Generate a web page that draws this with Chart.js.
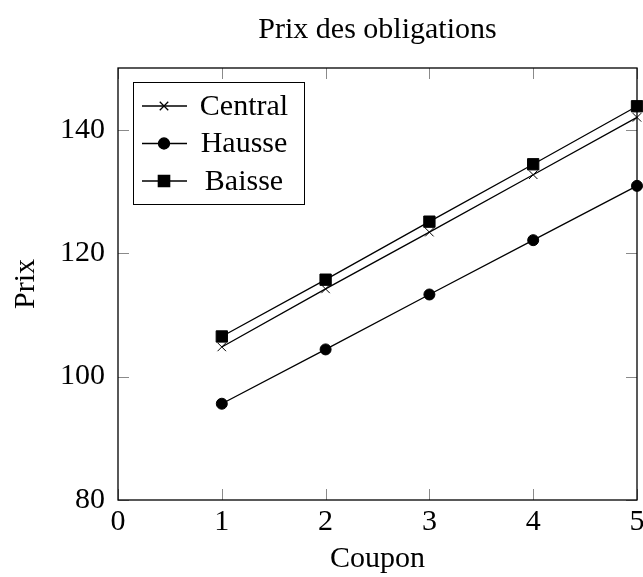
<!DOCTYPE html>
<html>
<head>
<meta charset="utf-8">
<script src="https://cdn.jsdelivr.net/npm/chart.js@4"></script>
<style>
  html, body { margin: 0; padding: 0; background: #fff; }
  #wrap { width: 643px; height: 577px; }
</style>
</head>
<body>
<div id="wrap"><canvas id="bond-chart" width="643" height="577"></canvas></div>
<script>
// values
const coupons = [1, 2, 3, 4, 5];
const central = [104.8, 114.2, 123.4, 132.7, 142.0];
const hausse = [95.6, 104.4, 113.3, 122.1, 130.9];
const baisse = [106.5, 115.7, 125.1, 134.4, 143.8];

const xTicks = [0, 1, 2, 3, 4, 5];
const yTicks = [80, 100, 120, 140];

Chart.defaults.font.family = "'Liberation Serif', serif";
Chart.defaults.font.size = 30;
Chart.defaults.color = '#000';

const toPoints = values => coupons.map((c, i) => ({x: c, y: values[i]}));

/**
 * pgfplots-like frame with inward ticks on all four sides
 */
const framePlugin = {
    id: 'frame',
    beforeDatasetsDraw(chart) {
        const {ctx, chartArea: a, scales: {x, y}} = chart;
        const len = 11;
        ctx.save();
        ctx.strokeStyle = '#8a8a8a';
        ctx.lineWidth = 1;
        ctx.beginPath();
        for (const v of xTicks) {
            const px = Math.round(x.getPixelForValue(v)) + 0.5;
            ctx.moveTo(px, a.bottom);
            ctx.lineTo(px, a.bottom - len);
            ctx.moveTo(px, a.top);
            ctx.lineTo(px, a.top + len);
        }
        for (const v of yTicks) {
            const py = Math.round(y.getPixelForValue(v)) + 0.5;
            ctx.moveTo(a.left, py);
            ctx.lineTo(a.left + len, py);
            ctx.moveTo(a.right, py);
            ctx.lineTo(a.right - len, py);
        }
        ctx.stroke();
        ctx.strokeStyle = '#000';
        ctx.lineWidth = 1.3;
        ctx.strokeRect(a.left, a.top, a.right - a.left, a.bottom - a.top);
        ctx.restore();
    }
};

/**
 * Legend box in the upper left corner of the plot
 */
const boxLegend = {
    id: 'boxLegend',
    afterDatasetsDraw(chart) {
        const {ctx, chartArea: a} = chart;
        const left = a.left + 15, top = a.top + 14;
        const w = 171, h = 122;
        ctx.save();
        ctx.fillStyle = '#fff';
        ctx.fillRect(left, top, w, h);
        ctx.strokeStyle = '#000';
        ctx.lineWidth = 1;
        ctx.strokeRect(left + 0.5, top + 0.5, w, h);
        ctx.font = "30px 'Liberation Serif', serif";
        ctx.textAlign = 'center';
        ctx.textBaseline = 'middle';
        chart.data.datasets.forEach((ds, i) => {
            const cy = top + 24 + i * 37.5;
            ctx.strokeStyle = '#000';
            ctx.lineWidth = 1.3;
            ctx.beginPath();
            ctx.moveTo(left + 9, cy);
            ctx.lineTo(left + 54, cy);
            ctx.stroke();
            Chart.helpers.drawPoint(ctx, {
                pointStyle: ds.pointStyle,
                radius: ds.pointRadius,
                rotation: 0,
                borderWidth: ds.pointBorderWidth
            }, left + 31, cy);
            ctx.fillStyle = '#000';
            ctx.fillText(ds.label, left + 111, cy + 1);
        });
        ctx.restore();
    }
};

function makeDataset(label, values, style, radius) {
    return {
        label: label,
        data: toPoints(values),
        borderColor: '#000',
        borderWidth: 1.3,
        backgroundColor: '#000',
        pointStyle: style,
        pointRadius: radius,
        pointHoverRadius: radius,
        pointBorderWidth: 1,
        pointBorderColor: '#000',
        pointBackgroundColor: '#000',
        tension: 0,
        fill: false,
        clip: false
    };
}

const chart = new Chart(document.getElementById('bond-chart'), {
    type: 'line',
    data: {
        datasets: [
            makeDataset('Central', central, 'crossRot', 6),
            makeDataset('Hausse', hausse, 'circle', 5.5),
            makeDataset('Baisse', baisse, 'rect', 8)
        ]
    },
    options: {
        responsive: false,
        devicePixelRatio: 1,
        animation: false,
        events: [],
        layout: {
            autoPadding: false,
            padding: {top: 0, right: 6, bottom: 0, left: 0}
        },
        plugins: {
            legend: {display: false},
            tooltip: {enabled: false},
            title: {
                display: true,
                text: 'Prix des obligations',
                fullSize: false,
                color: '#000',
                font: {size: 30, weight: 'normal'},
                padding: {top: 12, bottom: 20}
            }
        },
        scales: {
            x: {
                type: 'linear',
                min: 0,
                max: 5,
                grid: {display: false, drawTicks: false},
                border: {display: false},
                afterBuildTicks: s => { s.ticks = xTicks.map(v => ({value: v})); },
                afterFit: s => { s.height = 77; s.paddingLeft = 0; s.paddingRight = 0; },
                ticks: {padding: 4, maxRotation: 0, autoSkip: false},
                title: {
                    display: true,
                    text: 'Coupon',
                    padding: {top: 0, bottom: 0}
                }
            },
            y: {
                type: 'linear',
                min: 80,
                max: 150,
                grid: {display: false, drawTicks: false},
                border: {display: false},
                afterBuildTicks: s => { s.ticks = yTicks.map(v => ({value: v})); },
                afterFit: s => { s.width = 118; },
                ticks: {padding: 13},
                title: {
                    display: true,
                    text: 'Prix',
                    padding: {top: 8, bottom: 0}
                }
            }
        }
    },
    plugins: [framePlugin, boxLegend]
});
</script>
</body>
</html>
